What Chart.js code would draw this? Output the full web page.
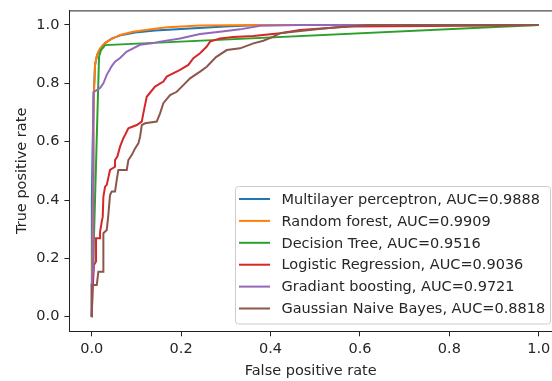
<!DOCTYPE html>
<html>
<head>
<meta charset="utf-8">
<script src="https://cdn.jsdelivr.net/npm/chart.js@4.4.1/dist/chart.umd.min.js"></script>
<style>
  html, body { margin: 0; padding: 0; background: #fff; }
  #wrap { width: 552px; height: 381px; position: relative; }
</style>
</head>
<body>
<div id="wrap"><canvas id="rocChart"></canvas></div>
<script>
// ROC curves (fpr, tpr pairs)

const modelLabels = [
    'Multilayer perceptron, AUC=0.9888',
    'Random forest, AUC=0.9909',
    'Decision Tree, AUC=0.9516',
    'Logistic Regression, AUC=0.9036',
    'Gradiant boosting, AUC=0.9721',
    'Gaussian Naive Bayes, AUC=0.8818'
];

const mlpFpr = [0, 0, 0.0004, 0.0018, 0.004, 0.0074, 0.0119, 0.0186, 0.0298, 0.0454, 0.0678, 0.0969, 0.1416, 0.2199, 0.2982, 0.3765, 1];
const mlpTpr = [0, 0.35, 0.40, 0.572, 0.743, 0.863, 0.897, 0.918, 0.938, 0.954, 0.966, 0.974, 0.981, 0.988, 0.995, 1, 1];

const rfFpr = [0, 0.0018, 0.0029, 0.0036, 0.0051, 0.0074, 0.0107, 0.0148, 0.0253, 0.0409, 0.0633, 0.0924, 0.1371, 0.1685, 0.2423, 0.3765, 1];
const rfTpr = [0, 0.229, 0.469, 0.657, 0.777, 0.863, 0.890, 0.909, 0.932, 0.949, 0.966, 0.977, 0.986, 0.992, 0.998, 1, 1];

const dtFpr = [0, 0.0163, 0.0208, 0.030, 1];
const dtTpr = [0, 0.891, 0.914, 0.931, 1];

const lrFpr = [0, 0.0018, 0.0051, 0.0096, 0.0096, 0.0186, 0.0186, 0.0224, 0.0246, 0.026, 0.0298, 0.0336, 0.0409, 0.0521, 0.0521, 0.0573, 0.0633, 0.0707, 0.0745, 0.0819, 0.1007, 0.1119, 0.1154, 0.123, 0.1416, 0.1602, 0.1678, 0.1752, 0.1975, 0.2161, 0.2273, 0.2423, 0.2573, 0.2647, 0.287, 0.3168, 0.3615, 0.4213, 0.466, 0.578, 0.92, 1];
const lrTpr = [0, 0.092, 0.177, 0.189, 0.269, 0.269, 0.291, 0.326, 0.343, 0.411, 0.446, 0.452, 0.503, 0.514, 0.537, 0.549, 0.583, 0.612, 0.623, 0.646, 0.657, 0.669, 0.697, 0.754, 0.789, 0.806, 0.823, 0.829, 0.846, 0.863, 0.886, 0.903, 0.926, 0.943, 0.954, 0.959, 0.962, 0.972, 0.983, 0.995, 0.998, 1];

const gbFpr = [0, 0, 0.0029, 0.0036, 0.004, 0.0112, 0.0186, 0.026, 0.0336, 0.0447, 0.0521, 0.0633, 0.0783, 0.0924, 0.1081, 0.1342, 0.1528, 0.1975, 0.2423, 0.287, 0.3318, 0.3765, 0.466, 1];
const gbTpr = [0, 0.109, 0.160, 0.400, 0.770, 0.777, 0.784, 0.800, 0.829, 0.859, 0.874, 0.887, 0.909, 0.920, 0.932, 0.937, 0.943, 0.954, 0.969, 0.977, 0.985, 0.997, 1, 1];

const gnbFpr = [0, 0, 0.0112, 0.0148, 0.026, 0.026, 0.0336, 0.0371, 0.0409, 0.0447, 0.0521, 0.0559, 0.0595, 0.0783, 0.0819, 0.0895, 0.0969, 0.1043, 0.1081, 0.1119, 0.1192, 0.1454, 0.1528, 0.1602, 0.1752, 0.1902, 0.2049, 0.2199, 0.2423, 0.2573, 0.278, 0.302, 0.3318, 0.3615, 0.3839, 0.4063, 0.4213, 0.451, 0.5034, 0.5481, 0.6226, 1];
const gnbTpr = [0, 0.109, 0.109, 0.154, 0.154, 0.286, 0.297, 0.349, 0.417, 0.429, 0.429, 0.469, 0.503, 0.503, 0.537, 0.554, 0.577, 0.594, 0.617, 0.657, 0.663, 0.669, 0.697, 0.732, 0.760, 0.771, 0.794, 0.817, 0.840, 0.857, 0.890, 0.914, 0.920, 0.937, 0.946, 0.960, 0.972, 0.977, 0.985, 0.992, 1, 1];

const xTicks = [0, 0.2, 0.4, 0.6, 0.8, 1.0];
const yTicks = [0, 0.2, 0.4, 0.6, 0.8, 1.0];

const fprList = [mlpFpr, rfFpr, dtFpr, lrFpr, gbFpr, gnbFpr];
const tprList = [mlpTpr, rfTpr, dtTpr, lrTpr, gbTpr, gnbTpr];
const lineColors = ['#1f77b4', '#ff7f0e', '#2ca02c', '#d62728', '#9467bd', '#8c564b'];

const FONT = 'DejaVu Sans';
const FONT_SIZE = 14.5;
const TEXT = '#262626';

const datasets = modelLabels.map((label, i) => ({
    label: label,
    data: fprList[i].map((x, j) => ({x: x, y: tprList[i][j]})),
    borderColor: lineColors[i],
    backgroundColor: lineColors[i],
    borderWidth: 2,
    showLine: true,
    pointRadius: 0,
    tension: 0,
    order: modelLabels.length - i  // last series on top, like matplotlib
}));

// top spine + matplotlib style legend
const framePlugin = {
    id: 'frame',
    afterDatasetsDraw(chart) {
        const {ctx, chartArea: a} = chart;
        ctx.save();
        ctx.strokeStyle = '#222';
        ctx.lineWidth = 1;
        ctx.beginPath();
        ctx.moveTo(a.left, a.top + 0.5);
        ctx.lineTo(a.right, a.top + 0.5);
        ctx.stroke();

        // legend box
        const bx = 235.5, by = 186.5, bw = 315, bh = 137.5, r = 3;
        ctx.beginPath();
        ctx.roundRect(bx, by, bw, bh, r);
        ctx.fillStyle = 'rgba(255,255,255,0.8)';
        ctx.fill();
        ctx.strokeStyle = '#cccccc';
        ctx.stroke();

        ctx.font = FONT_SIZE + 'px "' + FONT + '"';
        ctx.textBaseline = 'middle';
        ctx.textAlign = 'left';
        modelLabels.forEach((label, i) => {
            const y = 199 + i * 21.9;
            ctx.strokeStyle = lineColors[i];
            ctx.lineWidth = 2;
            ctx.beginPath();
            ctx.moveTo(239, y);
            ctx.lineTo(270, y);
            ctx.stroke();
            ctx.fillStyle = TEXT;
            ctx.fillText(label, 281.5, y + 1);
        });
        ctx.restore();
    }
};

const ctx = document.getElementById('rocChart').getContext('2d');
new Chart(ctx, {
    type: 'scatter',
    data: { datasets: datasets },
    plugins: [framePlugin],
    options: {
        responsive: true,
        maintainAspectRatio: false,
        animation: false,
        layout: { padding: { left: 0, right: 0, top: 10.4, bottom: 0 } },
        plugins: {
            legend: { display: false },
            tooltip: { enabled: false }
        },
        scales: {
            x: {
                type: 'linear',
                min: -0.05,
                max: 1.0296,
                afterBuildTicks: (s) => { s.ticks = xTicks.map(v => ({value: v})); },
                afterFit: (s) => { s.height = 49.7; s.paddingLeft = 0; s.paddingRight = 0; },
                grid: { drawOnChartArea: false, tickLength: 5, color: '#222', tickWidth: 1 },
                border: { display: true, color: '#222', width: 1 },
                ticks: {
                    padding: 4,
                    color: TEXT,
                    font: { family: FONT, size: FONT_SIZE },
                    maxRotation: 0,
                    callback: (v) => v.toFixed(1)
                },
                title: {
                    display: true,
                    text: 'False positive rate',
                    color: TEXT,
                    font: { family: FONT, size: FONT_SIZE },
                    padding: { top: 0, bottom: 0.8 }
                }
            },
            y: {
                type: 'linear',
                min: -0.05,
                max: 1.05,
                afterBuildTicks: (s) => { s.ticks = yTicks.map(v => ({value: v})); },
                afterFit: (s) => { s.width = 69.4; s.paddingTop = 0; s.paddingBottom = 0; },
                grid: { drawOnChartArea: false, tickLength: 5, color: '#222', tickWidth: 1 },
                border: { display: true, color: '#222', width: 1 },
                ticks: {
                    padding: 5,
                    color: TEXT,
                    font: { family: FONT, size: FONT_SIZE },
                    callback: (v) => v.toFixed(1)
                },
                title: {
                    display: true,
                    text: 'True positive rate',
                    color: TEXT,
                    font: { family: FONT, size: FONT_SIZE },
                    padding: { top: 13.3, bottom: 0 }
                }
            }
        }
    }
});
</script>
</body>
</html>
